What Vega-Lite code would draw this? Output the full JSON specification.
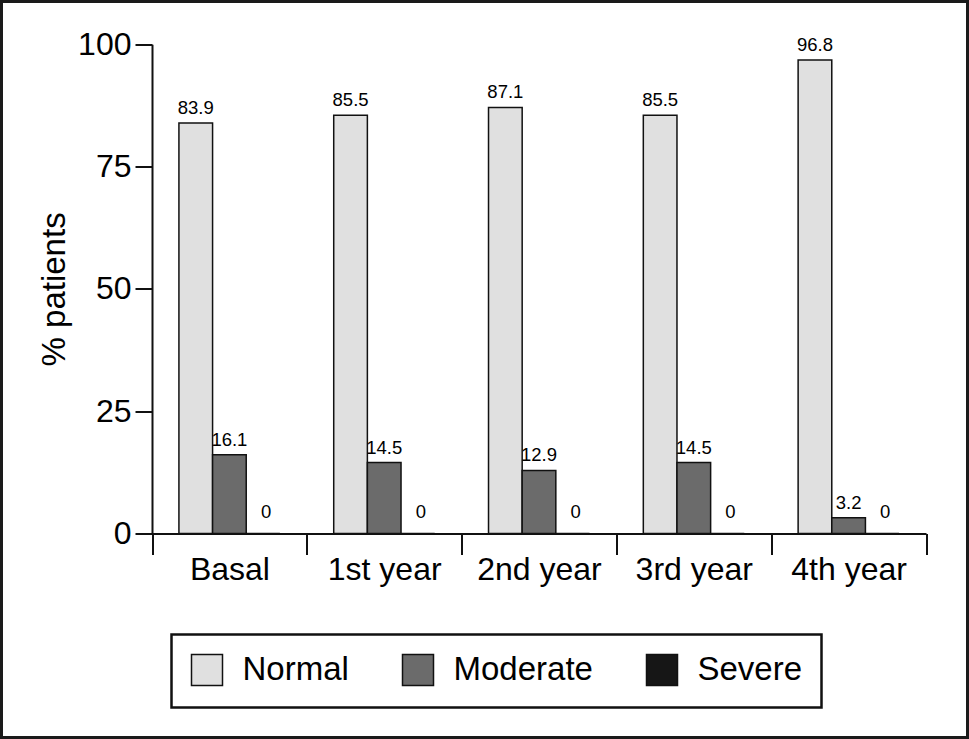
{
  "$schema": "https://vega.github.io/schema/vega-lite/v6.json",
  "width": 966,
  "height": 736,
  "autosize": {"type": "none"},
  "padding": {"left": 1.5, "top": 1.5, "right": 1.5, "bottom": 1.5},
  "background": "white",
  "config": {"view": {"stroke": "#1a1a1a", "strokeWidth": 3, "fill": "white"}, "font": "Liberation Sans"},
  "data": {
    "values": [
      {"period": "Basal", "severity": "Normal", "value": 83.9},
      {"period": "Basal", "severity": "Moderate", "value": 16.1},
      {"period": "Basal", "severity": "Severe", "value": 0},
      {"period": "1st year", "severity": "Normal", "value": 85.5},
      {"period": "1st year", "severity": "Moderate", "value": 14.5},
      {"period": "1st year", "severity": "Severe", "value": 0},
      {"period": "2nd year", "severity": "Normal", "value": 87.1},
      {"period": "2nd year", "severity": "Moderate", "value": 12.9},
      {"period": "2nd year", "severity": "Severe", "value": 0},
      {"period": "3rd year", "severity": "Normal", "value": 85.5},
      {"period": "3rd year", "severity": "Moderate", "value": 14.5},
      {"period": "3rd year", "severity": "Severe", "value": 0},
      {"period": "4th year", "severity": "Normal", "value": 96.8},
      {"period": "4th year", "severity": "Moderate", "value": 3.2},
      {"period": "4th year", "severity": "Severe", "value": 0}
    ]
  },
  "encoding": {
    "x": {
      "field": "period",
      "type": "nominal",
      "sort": ["Basal", "1st year", "2nd year", "3rd year", "4th year"],
      "scale": {"range": [150.5, 924.5], "paddingInner": 0, "paddingOuter": 0},
      "axis": {
        "title": null,
        "offset": -204,
        "labelFontSize": 32,
        "labelColor": "black",
        "labelAngle": 0,
        "tickBand": "extent",
        "tickSize": 21,
        "tickWidth": 2,
        "tickColor": "#111111",
        "domainColor": "#111111",
        "domainWidth": 2,
        "labelPadding": 0
      }
    },
    "xOffset": {
      "field": "severity",
      "type": "nominal",
      "sort": ["Normal", "Moderate", "Severe"],
      "scale": {"paddingInner": 0, "paddingOuter": 0.8}
    },
    "y": {
      "field": "value",
      "type": "quantitative",
      "scale": {"domain": [0, 100], "range": [532, 42.8]},
      "axis": {
        "offset": -150.5,
        "values": [0, 25, 50, 75, 100],
        "title": "% patients",
        "titleFontSize": 33,
        "titleFontWeight": "normal",
        "titleColor": "black",
        "titlePadding": 6,
        "labelFontSize": 32,
        "labelColor": "black",
        "labelPadding": 4,
        "tickSize": 17,
        "tickWidth": 2,
        "tickColor": "#111111",
        "domainColor": "#111111",
        "domainWidth": 2,
        "grid": false
      }
    }
  },
  "layer": [
    {
      "mark": {"type": "bar", "stroke": "#111111", "strokeWidth": 1.5},
      "encoding": {
        "color": {
          "field": "severity",
          "type": "nominal",
          "scale": {"domain": ["Normal", "Moderate", "Severe"], "range": ["#e0e0e0", "#6b6b6b", "#161616"]},
          "legend": {
            "orient": "none",
            "legendX": 170,
            "legendY": 633,
            "direction": "horizontal",
            "title": null,
            "strokeColor": "#111111",
            "padding": 19,
            "symbolType": "square",
            "symbolSize": 961,
            "symbolStrokeColor": "#111111",
            "symbolStrokeWidth": 1.5,
            "symbolOpacity": 1,
            "labelFontSize": 33,
            "labelColor": "black",
            "labelOffset": 19,
            "columnPadding": 50,
            "encode": {"legend": {"update": {"strokeWidth": {"value": 2.5}}}}
          }
        }
      }
    },
    {
      "transform": [{"filter": "datum.value > 0"}],
      "mark": {"type": "text", "dy": -9, "fontSize": 18.5, "baseline": "alphabetic", "color": "black"},
      "encoding": {"text": {"field": "value", "type": "quantitative"}}
    },
    {
      "transform": [{"filter": "datum.value == 0"}],
      "mark": {"type": "text", "dy": -16, "dx": 3, "fontSize": 18.5, "baseline": "alphabetic", "color": "black"},
      "encoding": {"text": {"field": "value", "type": "quantitative"}}
    }
  ]
}
